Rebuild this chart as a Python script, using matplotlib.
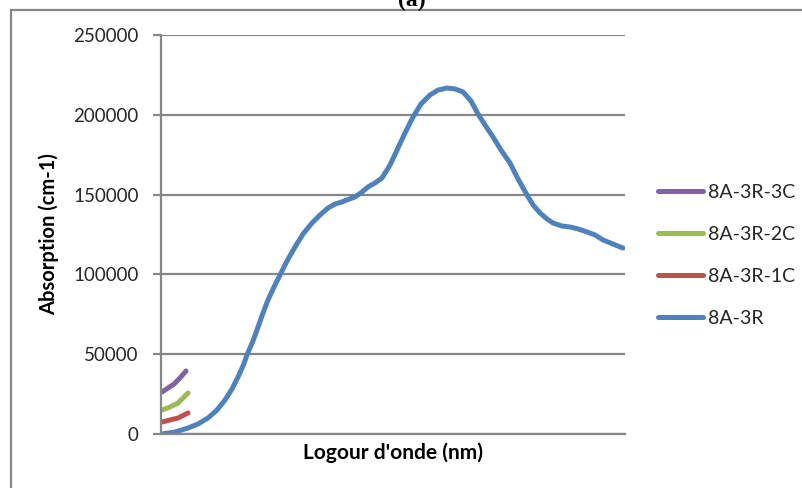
import numpy as np
import matplotlib.pyplot as plt
from matplotlib.patches import Rectangle

# Spectres d'absorption (positions le long de l'axe, valeurs en cm-1)
x_8a3r = [1, 14, 27, 37, 47, 56, 64, 71, 77, 82, 86, 92, 97, 102, 107, 113,
          119, 126, 134, 142, 151, 159, 167, 174, 181, 188, 194, 201, 207,
          214, 221, 229, 236, 244, 252, 260, 269, 277, 286, 294, 302, 310,
          317, 324, 332, 340, 349, 357, 366, 372, 379, 386, 392, 401, 409,
          417, 426, 434, 442, 452, 462]
y_8a3r = [0, 1250, 3760, 6270, 10030, 15040, 21300, 28200, 35700, 42600,
          49500, 58300, 67000, 75800, 84000, 92100, 99600, 108400, 117200,
          125300, 132200, 137200, 141600, 144100, 145400, 147200, 148500,
          151600, 154800, 157300, 160400, 168500, 177900, 188600, 198600,
          206800, 212400, 215500, 216800, 216200, 214300, 208700, 200500,
          193600, 186100, 177900, 169800, 159800, 149800, 143500, 138500,
          134700, 132200, 130300, 129700, 128500, 126600, 124700, 121600,
          119000, 116500]

x_1c = [1, 9, 17, 27]
y_1c = [7500, 8800, 10000, 13200]

x_2c = [1, 9, 17, 27]
y_2c = [15000, 16900, 19400, 25700]

x_3c = [1, 7, 13, 19, 25]
y_3c = [26300, 28800, 31300, 35100, 39500]

grey = '#878787'
plt.rcParams['font.family'] = ['Lato', 'DejaVu Sans']

fig = plt.figure(figsize=(8.03, 4.88), dpi=100)
ax = fig.add_axes([161 / 803, 1 - 434 / 488, 464 / 803, 399 / 488])

ax.plot(x_3c, y_3c, color='#8064A2', lw=3.6, solid_capstyle='round', label='8A-3R-3C')
ax.plot(x_2c, y_2c, color='#9BBB59', lw=3.6, solid_capstyle='round', label='8A-3R-2C')
ax.plot(x_1c, y_1c, color='#C0504D', lw=3.6, solid_capstyle='round', label='8A-3R-1C')
ax.plot(x_8a3r, y_8a3r, color='#4F81BD', lw=3.6, solid_capstyle='round',
        solid_joinstyle='round', label='8A-3R')

ax.set_xlim(0, 464)
ax.set_ylim(0, 250000)
ax.set_yticks(np.arange(0, 250001, 50000))
ax.set_xticks([])
ax.grid(axis='y', color=grey, lw=1.6)
ax.set_axisbelow(True)
for s in ['top', 'right']:
    ax.spines[s].set_visible(False)
for s in ['left', 'bottom']:
    ax.spines[s].set_color(grey)
    ax.spines[s].set_linewidth(1.6)
ax.tick_params(axis='y', direction='out', length=6, width=1.6, color=grey,
               labelsize=13.5, labelcolor='#262626', pad=10)

ax.set_ylabel('Absorption (cm-1)', fontsize=14.5, fontweight='bold', labelpad=10)
ax.set_xlabel("Logour d'onde (nm)", fontsize=15, fontweight='bold', labelpad=6)

leg = ax.legend(loc='upper left', bbox_to_anchor=(1.055, 0.647), frameon=False,
                fontsize=14, handlelength=2.3, handletextpad=0.26,
                labelspacing=1.29, borderaxespad=0)
for t in leg.get_texts():
    t.set_color('#262626')

# cadre du graphique et titre coupé en haut
fig.patches.append(Rectangle((11 / 803, -0.1), 1.0, 1.1 - 10 / 488,
                             transform=fig.transFigure, fill=False,
                             edgecolor=grey, lw=1.6))
fig.text(412 / 803, 1 - 6 / 488, '(a)', ha='center', va='baseline',
         fontsize=17, fontweight='bold', family='Liberation Serif')

fig.savefig('out.png', dpi=100)
